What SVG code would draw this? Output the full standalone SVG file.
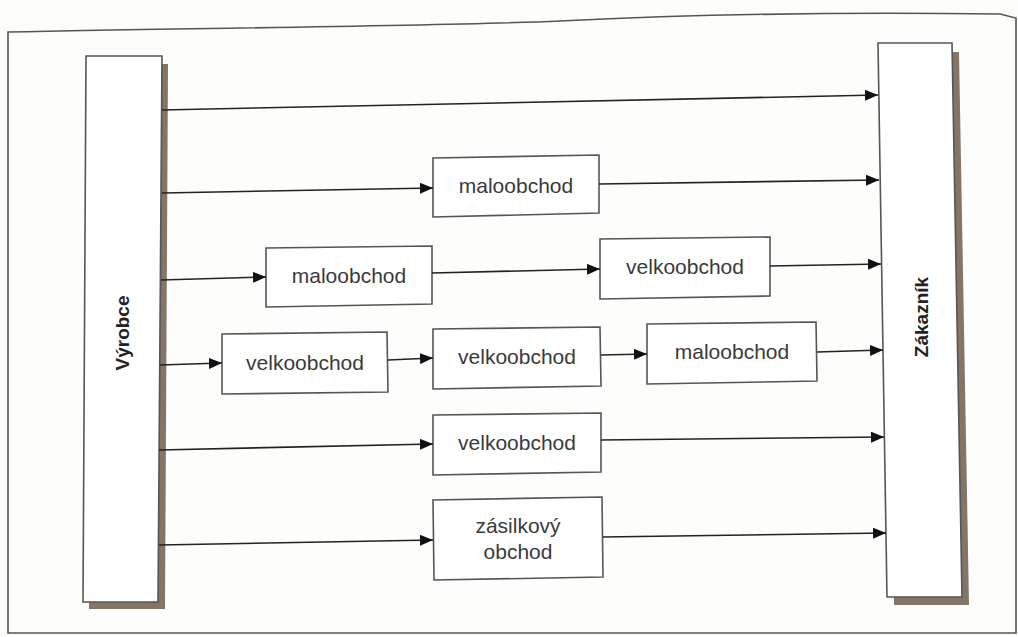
<svg xmlns="http://www.w3.org/2000/svg" width="1018" height="637" viewBox="0 0 1018 637">
<style>
.frame{fill:none;stroke:#555;stroke-width:1.6}
.box{fill:#fff;stroke:#555;stroke-width:1.6}
.shadow{fill:#857566}
.lbl{font-family:"Liberation Sans",Arial,sans-serif;font-size:21px;fill:#3a3a3a;text-anchor:middle}
.big{font-family:"Liberation Sans",Arial,sans-serif;font-size:19px;font-weight:bold;fill:#222;text-anchor:middle}
.con{stroke:#222;stroke-width:1.6;fill:none;marker-end:url(#ah)}
</style>
<defs>
<marker id="ah" viewBox="0 0 13 11" refX="13" refY="5.5" markerWidth="13" markerHeight="11" markerUnits="userSpaceOnUse" orient="auto">
<path d="M0,0 L13,5.5 L0,11 Z" fill="#111"/>
</marker>
</defs>
<rect x="0" y="0" width="1018" height="637" fill="#fdfdfb"/>
<path class="frame" d="M8,32 C200,28 450,26 560,21 C700,14 850,12 1000,14 L1016,18 L1016,633 L8,633 Z"/>

<g id="vyrobce">
<polygon class="shadow" points="92,64 168,64 165,609 89,609"/>
<polygon class="box" points="86,56 162,56 158,602 83,602"/>
<text class="big" transform="translate(129,333) rotate(-90)">Výrobce</text>
</g>

<g id="zakaznik">
<polygon class="shadow" points="885,52 959,52 969,605 894,605"/>
<polygon class="box" points="878,43 952,43 962,597 887,597"/>
<text class="big" transform="translate(928,317) rotate(-90)">Zákazník</text>
</g>

<g id="n2-maloobchod">
<polygon class="box" points="433,158 599,155 599,213 433,217"/>
<text class="lbl" x="516" y="193">maloobchod</text>
</g>
<g id="n3-maloobchod">
<polygon class="box" points="266,248 432,246 432,304 266,307"/>
<text class="lbl" x="349" y="283">maloobchod</text>
</g>
<g id="n3-velkoobchod">
<polygon class="box" points="600,239 770,237 770,296 600,299"/>
<text class="lbl" x="685" y="274">velkoobchod</text>
</g>
<g id="n4-velkoobchod1">
<polygon class="box" points="222,334 387,332 388,392 222,394"/>
<text class="lbl" x="305" y="370">velkoobchod</text>
</g>
<g id="n4-velkoobchod2">
<polygon class="box" points="433,329 600,327 601,386 433,389"/>
<text class="lbl" x="517" y="364">velkoobchod</text>
</g>
<g id="n4-maloobchod">
<polygon class="box" points="647,324 816,322 817,381 647,384"/>
<text class="lbl" x="732" y="359">maloobchod</text>
</g>
<g id="n5-velkoobchod">
<polygon class="box" points="433,415 601,413 601,472 433,475"/>
<text class="lbl" x="517" y="450">velkoobchod</text>
</g>
<g id="n6-zasilkovy">
<polygon class="box" points="433,500 602,497 603,577 434,580"/>
<text class="lbl" x="518" y="533">zásilkový</text>
<text class="lbl" x="518" y="559">obchod</text>
</g>

<g id="connectors">
<line class="con" x1="162" y1="110" x2="878" y2="95"/>
<line class="con" x1="162" y1="193" x2="433" y2="188"/>
<line class="con" x1="599" y1="184" x2="879" y2="180"/>
<line class="con" x1="161" y1="280" x2="266" y2="277"/>
<line class="con" x1="432" y1="273" x2="600" y2="269"/>
<line class="con" x1="770" y1="266" x2="881" y2="264"/>
<line class="con" x1="160" y1="365" x2="222" y2="363"/>
<line class="con" x1="388" y1="360" x2="433" y2="358"/>
<line class="con" x1="601" y1="355" x2="647" y2="354"/>
<line class="con" x1="817" y1="352" x2="883" y2="350"/>
<line class="con" x1="159" y1="450" x2="433" y2="444"/>
<line class="con" x1="601" y1="440" x2="884" y2="437"/>
<line class="con" x1="159" y1="545" x2="433" y2="540"/>
<line class="con" x1="603" y1="537" x2="886" y2="533"/>
</g>
</svg>
